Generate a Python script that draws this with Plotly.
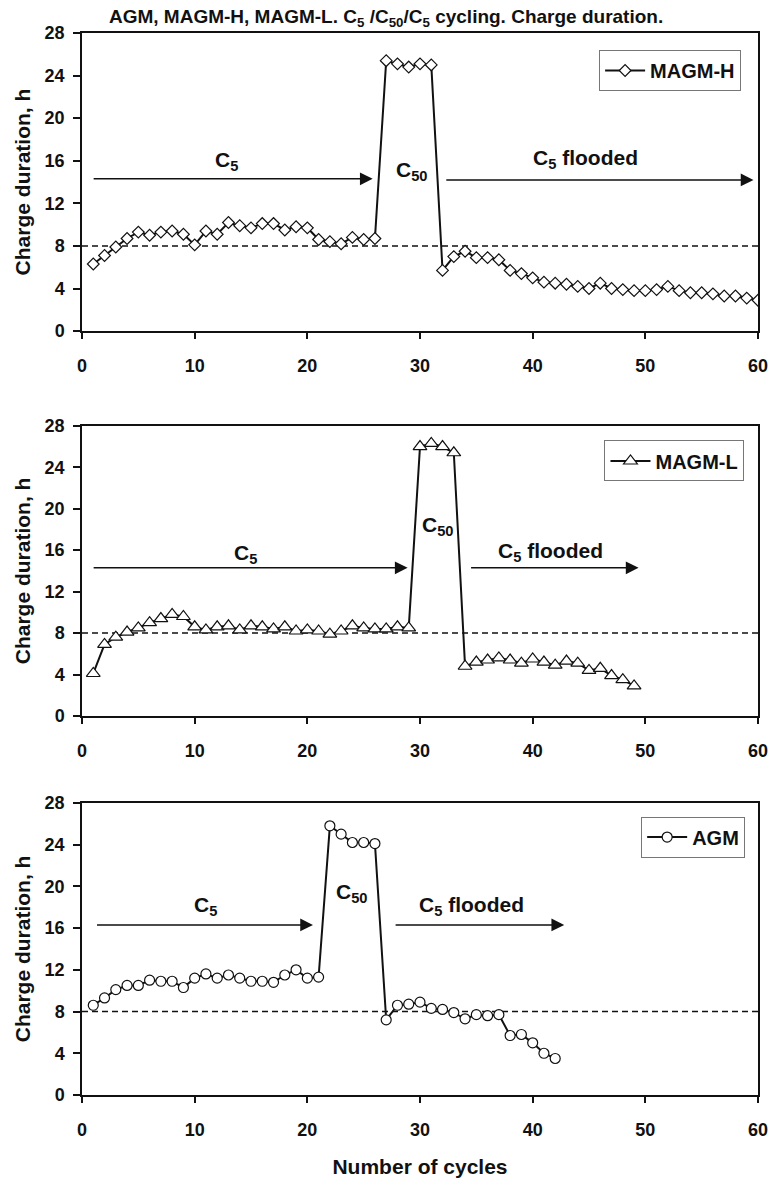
import plotly.graph_objects as go

# ---------------- data ----------------
cycles_h = list(range(1, 61))
magm_h = [6.3, 7.1, 7.9, 8.7, 9.3, 9.0, 9.3, 9.4, 9.1, 8.1,
          9.4, 9.1, 10.2, 9.9, 9.7, 10.1, 10.1, 9.5, 9.8, 9.7,
          8.6, 8.4, 8.2, 8.8, 8.6, 8.7, 25.4, 25.1, 24.8, 25.1,
          25.0, 5.7, 7.0, 7.5, 6.9, 6.9, 6.7, 5.7, 5.4, 5.0,
          4.6, 4.5, 4.4, 4.2, 4.0, 4.5, 4.0, 3.9, 3.8, 3.8,
          3.9, 4.2, 3.8, 3.6, 3.6, 3.5, 3.3, 3.3, 3.1, 2.9]

cycles_l = list(range(1, 50))
magm_l = [4.1, 6.9, 7.6, 8.1, 8.5, 9.0, 9.4, 9.8, 9.6, 8.6,
          8.3, 8.6, 8.7, 8.3, 8.7, 8.6, 8.4, 8.6, 8.2, 8.3,
          8.2, 7.9, 8.2, 8.7, 8.5, 8.4, 8.4, 8.6, 8.5, 26.0,
          26.3, 26.0, 25.4, 4.8, 5.2, 5.4, 5.6, 5.4, 5.1, 5.5,
          5.2, 4.9, 5.3, 5.1, 4.4, 4.6, 3.9, 3.5, 2.9]

cycles_a = list(range(1, 43))
agm = [8.6, 9.3, 10.1, 10.5, 10.5, 11.0, 10.9, 10.9, 10.3, 11.2,
       11.6, 11.2, 11.5, 11.2, 10.9, 10.9, 10.8, 11.5, 12.0, 11.2,
       11.3, 25.8, 25.0, 24.2, 24.2, 24.1, 7.2, 8.6, 8.7, 8.9,
       8.3, 8.2, 7.9, 7.3, 7.7, 7.6, 7.7, 5.7, 5.8, 5.0,
       4.0, 3.5]

series_names = ["MAGM-H", "MAGM-L", "AGM"]
symbols = ["diamond", "triangle-up", "circle"]

x_ticks = [0, 10, 20, 30, 40, 50, 60]
y_ticks = [0, 4, 8, 12, 16, 20, 24, 28]
reference_level = 8

# arrows: (x_start, x_end, y) per panel
arrows = [
    [(0.9, 25.8, 14.3), (32.2, 59.6, 14.2)],
    [(0.9, 28.9, 14.3), (34.4, 49.4, 14.3)],
    [(1.2, 20.5, 16.3), (27.7, 42.8, 16.3)],
]
# labels: (text, x, y) per panel
labels = [
    [("C<sub>5</sub>", 12.8, 16.0), ("C<sub>50</sub>", 29.3, 15.0), ("C<sub>5</sub> flooded", 44.7, 16.2)],
    [("C<sub>5</sub>", 14.5, 15.6), ("C<sub>50</sub>", 31.6, 18.3), ("C<sub>5</sub> flooded", 41.6, 15.8)],
    [("C<sub>5</sub>", 11.0, 18.1), ("C<sub>50</sub>", 24.0, 19.4), ("C<sub>5</sub> flooded", 34.6, 18.1)],
]

FONT = "Liberation Sans, Arial, sans-serif"
INK = "#111111"

fig = go.Figure()

datasets = [(cycles_h, magm_h), (cycles_l, magm_l), (cycles_a, agm)]
sizes = [9, 12, 10]
for i, ((xs, ys), name, sym, sz) in enumerate(zip(datasets, series_names, symbols, sizes)):
    axn = "" if i == 0 else str(i + 1)
    fig.add_trace(go.Scatter(
        x=xs, y=ys, name=name, mode="lines+markers",
        line=dict(color=INK, width=2),
        marker=dict(symbol=sym, size=sz, color="white",
                    line=dict(color=INK, width=1.2)),
        xaxis="x" + axn, yaxis="y" + axn,
        legend="legend" + axn,
        showlegend=True,
    ))

domains = [[0.7193, 1.0], [0.3569, 0.6301], [0.0, 0.2751]]
layout = dict(
    width=780, height=1187,
    margin=dict(l=82, r=12, t=33, b=78),
    paper_bgcolor="white", plot_bgcolor="white",
    font=dict(family=FONT, color=INK, size=18),
    title=dict(text="AGM, MAGM-H, MAGM-L. C<sub>5</sub> /C<sub>50</sub>/C<sub>5</sub> cycling. Charge duration.",
               x=0.495, xanchor="center", y=1 - 16 / 1187, yanchor="middle", yref="container",
               font=dict(family=FONT, size=19, color=INK, weight="bold")),
)

legend_pos = [(0.975, 0.984), (0.980, 0.6163), (0.981, 0.2622)]
for i in range(3):
    axn = "" if i == 0 else str(i + 1)
    layout["xaxis" + axn] = dict(
        domain=[0, 1], anchor="y" + axn, range=[0, 60], tickvals=x_ticks,
        showline=True, linecolor=INK, linewidth=1.5, mirror=True,
        ticks="outside", ticklen=6, tickwidth=1.5, tickcolor=INK,
        showgrid=False, zeroline=False, ticklabelstandoff=12,
        tickfont=dict(family=FONT, size=18, color=INK, weight="bold"),
    )
    layout["yaxis" + axn] = dict(
        domain=domains[i], anchor="x" + axn, range=[0, 28], tickvals=y_ticks,
        showline=True, linecolor=INK, linewidth=1.5, mirror=True,
        ticks="outside", ticklen=7, tickwidth=1.5, tickcolor=INK,
        showgrid=False, zeroline=False, ticklabelstandoff=5,
        tickfont=dict(family=FONT, size=18, color=INK, weight="bold"),
        title=dict(text="Charge duration, h", standoff=8,
                   font=dict(family=FONT, size=21, color=INK, weight="bold")),
    )
    lx, ly = legend_pos[i]
    layout["legend" + axn] = dict(
        x=lx, y=ly, xanchor="right", yanchor="top", xref="paper", yref="paper",
        bgcolor="white", bordercolor="#777777", borderwidth=1,
        font=dict(family=FONT, size=20, color=INK, weight="bold"),
        itemwidth=40, tracegroupgap=0,
    )

layout["xaxis3"]["title"] = dict(text="Number of cycles", standoff=20,
                                 font=dict(family=FONT, size=21, color=INK, weight="bold"))
fig.update_layout(**layout)

shapes = []
annotations = []
for i in range(3):
    axn = "" if i == 0 else str(i + 1)
    shapes.append(dict(type="line", xref="x" + axn, yref="y" + axn,
                       x0=0, x1=60, y0=reference_level, y1=reference_level,
                       line=dict(color=INK, width=1.5, dash="6px,4px"), layer="below"))
    for (x0, x1, yy) in arrows[i]:
        annotations.append(dict(
            x=x1, y=yy, ax=x0, ay=yy, xref="x" + axn, yref="y" + axn,
            axref="x" + axn, ayref="y" + axn, text="", showarrow=True,
            arrowhead=2, arrowsize=1.7, arrowwidth=1.5, arrowcolor=INK, standoff=0,
        ))
    for (t, xx, yy) in labels[i]:
        annotations.append(dict(
            x=xx, y=yy, xref="x" + axn, yref="y" + axn, text=t, showarrow=False,
            font=dict(family=FONT, size=21, color=INK, weight="bold"),
        ))

fig.update_layout(shapes=shapes, annotations=annotations)
fig.write_html("out.html", config={"displayModeBar": False},
               post_script="document.body.style.margin='0';document.body.style.overflow='hidden';")
